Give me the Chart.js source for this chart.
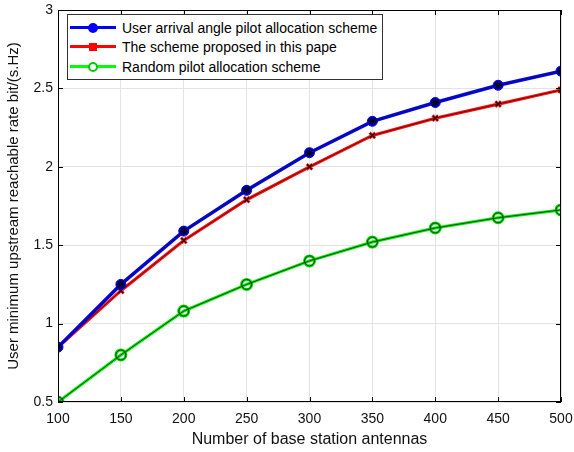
<!DOCTYPE html>
<html>
<head>
<meta charset="utf-8">
<script src="https://cdn.jsdelivr.net/npm/chart.js@4.4.0/dist/chart.umd.min.js"></script>
<style>
  html, body { margin: 0; padding: 0; background: #fff; }
  #wrap { position: relative; width: 574px; height: 452px; }
  #legend {
    position: absolute; left: 67px; top: 14px; width: 316px; height: 66px;
    border: 1px solid #333; background: #fff; box-sizing: border-box;
    font-family: 'Liberation Sans', Arial, sans-serif; font-size: 14px; color: #000;
    padding-top: 3px;
  }
  .row { display: flex; align-items: center; height: 19.5px; }
  .swatch { position: relative; width: 46px; height: 10px; margin: 0 6px 0 2px; }
  .swatch .ln { position: absolute; left: 0; right: 0; top: 3px; height: 3px; }
  .swatch .mk { position: absolute; left: 18px; top: 0; width: 10px; height: 10px; box-sizing: border-box; border-radius: 50%; }
</style>
</head>
<body>
<div id="wrap">
  <canvas id="chart" width="574" height="452"></canvas>
  <div id="legend">
    <div class="row"><div class="swatch"><div class="ln" style="background:#0000ff"></div><div class="mk" style="background:#0000ff"></div></div>User arrival angle pilot allocation scheme</div>
    <div class="row"><div class="swatch"><div class="ln" style="background:#ff0000"></div><div class="mk" style="left:19px;top:1px;width:8px;height:8px;border-radius:0;background:#ff0000"></div></div>The scheme proposed in this pape</div>
    <div class="row"><div class="swatch"><div class="ln" style="background:#00ff00"></div><div class="mk" style="border:2px solid #00cc00;background:#fff"></div></div>Random pilot allocation scheme</div>
  </div>
</div>
<script>
// Data
const antennas = [100, 150, 200, 250, 300, 350, 400, 450, 500];
const arrivalAngle = [0.85, 1.25, 1.59, 1.85, 2.09, 2.29, 2.41, 2.52, 2.61];
const proposed = [0.85, 1.21, 1.53, 1.79, 2.00, 2.20, 2.31, 2.40, 2.49];
const randomPilot = [0.50, 0.80, 1.08, 1.25, 1.40, 1.52, 1.61, 1.675, 1.725];
const xTicks = [100, 150, 200, 250, 300, 350, 400, 450, 500];
const yTicks = [0.5, 1, 1.5, 2, 2.5, 3];

const FONT = "'Liberation Sans', Arial, sans-serif";

const pts = arr => arr.map((v, i) => ({ x: antennas[i], y: v }));

// Box frame with inward ticks like MATLAB axes
const frame = {
    id: 'frame',
    afterDatasetsDraw(chart) {
        const { ctx, chartArea: a, scales: { x, y } } = chart;
        ctx.save();
        ctx.strokeStyle = '#000';
        ctx.lineWidth = 1;
        ctx.strokeRect(a.left + 0.5, a.top + 0.5, a.right - a.left - 1, a.bottom - a.top - 1);
        ctx.beginPath();
        xTicks.forEach(t => {
            const px = Math.round(x.getPixelForValue(t)) + 0.5;
            ctx.moveTo(px, a.bottom); ctx.lineTo(px, a.bottom - 5);
            ctx.moveTo(px, a.top); ctx.lineTo(px, a.top + 5);
        });
        yTicks.forEach(t => {
            const py = Math.round(y.getPixelForValue(t)) + 0.5;
            ctx.moveTo(a.left, py); ctx.lineTo(a.left + 5, py);
            ctx.moveTo(a.right, py); ctx.lineTo(a.right - 5, py);
        });
        ctx.stroke();
        ctx.restore();
    }
};

new Chart(document.getElementById('chart'), {
    type: 'line',
    data: {
        datasets: [
            // dark thin overlays (low order = drawn on top)
            { order: 0, data: pts(arrivalAngle), borderColor: '#10106a', borderWidth: 1.2, pointRadius: 4, pointStyle: 'star',
              pointBorderColor: '#000020', pointBorderWidth: 1.3 },
            { order: 1, data: pts(arrivalAngle), borderColor: '#0000ff', borderWidth: 3.5, pointRadius: 5, pointStyle: 'circle',
              pointBorderColor: '#0000ee', pointBackgroundColor: '#0000bb', pointBorderWidth: 1 },
            { order: 2, data: pts(proposed), borderColor: '#6a0a0a', borderWidth: 1, pointRadius: 3.5, pointStyle: 'crossRot',
              pointBorderColor: '#3a0000', pointBorderWidth: 1.6 },
            { order: 3, data: pts(proposed), borderColor: '#ff1010', borderWidth: 3.2, pointRadius: 4, pointStyle: 'crossRot',
              pointBorderColor: '#ff3030', pointBorderWidth: 3 },
            { order: 4, data: pts(randomPilot), borderColor: '#1a4a1a', borderWidth: 1, pointRadius: 5, pointStyle: 'circle',
              pointBorderColor: '#113311', pointBorderWidth: 0.9, pointBackgroundColor: 'rgba(0,0,0,0)' },
            { order: 5, data: pts(randomPilot), borderColor: '#00ee00', borderWidth: 3, pointRadius: 5, pointStyle: 'circle',
              pointBorderColor: '#00dd00', pointBorderWidth: 3, pointBackgroundColor: 'rgba(0,0,0,0)' }
        ]
    },
    options: {
        responsive: false,
        animation: false,
        layout: { padding: { top: 10, right: 13, left: 0, bottom: 3 } },
        plugins: { legend: { display: false }, tooltip: { enabled: false } },
        scales: {
            x: {
                type: 'linear', min: 100, max: 500,
                afterBuildTicks: s => { s.ticks = xTicks.map(v => ({ value: v })); },
                afterFit: s => { s.height = 47; s.paddingLeft = 0; s.paddingRight = 0; },
                grid: { color: '#e3e3e3', tickLength: 0, drawTicks: false },
                border: { display: false },
                ticks: { color: '#111', font: { family: FONT, size: 14 }, padding: 9, callback: v => String(v) },
                title: { display: true, text: 'Number of base station antennas', color: '#111',
                         font: { family: FONT, size: 16 }, padding: { top: 2, bottom: 0 } }
            },
            y: {
                min: 0.5, max: 3,
                afterBuildTicks: s => { s.ticks = yTicks.map(v => ({ value: v })); },
                afterFit: s => { s.width = 58; s.paddingTop = 0; s.paddingBottom = 0; },
                grid: { color: '#e3e3e3', tickLength: 0, drawTicks: false },
                border: { display: false },
                ticks: { color: '#111', font: { family: FONT, size: 14 }, padding: 5, callback: v => String(v) },
                title: { display: true, text: 'User minimum upstream reachable rate bit/(s.Hz)', color: '#111',
                         font: { family: FONT, size: 15 }, padding: { top: 5, bottom: 0 } }
            }
        }
    },
    plugins: [frame]
});
</script>
</body>
</html>
